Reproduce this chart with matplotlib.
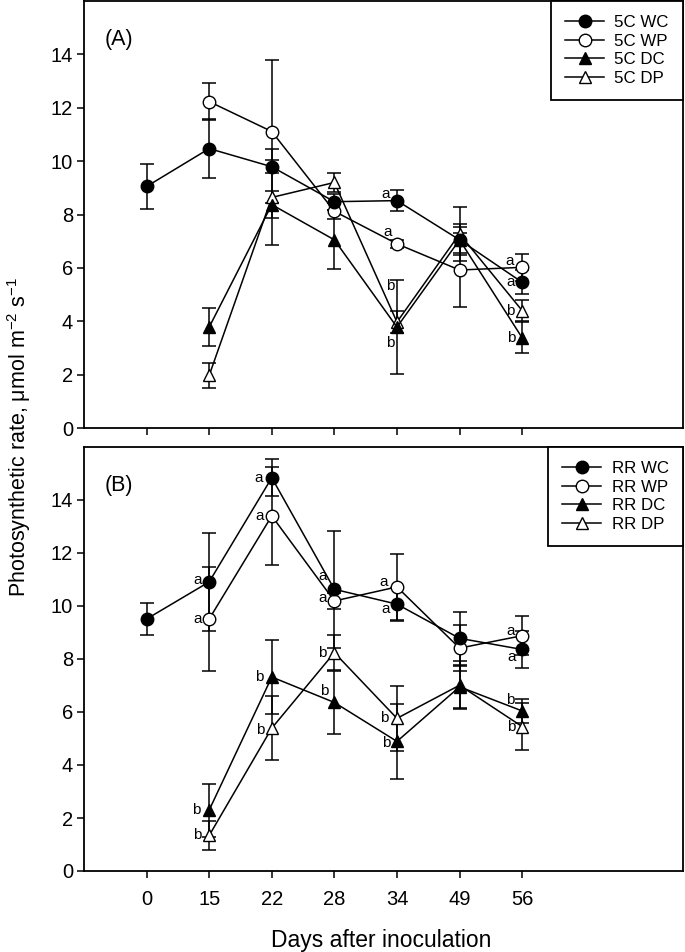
import numpy as np
import matplotlib
matplotlib.use("Agg")
import matplotlib.pyplot as plt
from matplotlib.lines import Line2D

plt.rcParams['font.family'] = ['Liberation Sans', 'DejaVu Sans']
plt.rcParams['mathtext.fontset'] = 'custom'
plt.rcParams['mathtext.rm'] = 'Liberation Sans'
plt.rcParams['mathtext.it'] = 'Liberation Sans:italic'
plt.rcParams['mathtext.bf'] = 'Liberation Sans:bold'

days = ['0', '15', '22', '28', '34', '49', '56']
nan = np.nan

# Panel A (5C)
A_WC = [9.05, 10.47, 9.79, 8.48, 8.52, 7.05, 5.46]
A_WC_err = [0.83, 1.1, 0.25, 0.3, 0.4, 0.58, 0.45]
A_WP = [nan, 12.23, 11.11, 8.12, 6.9, 5.92, 6.02]
A_WP_err = [nan, 0.7, 2.68, 0.3, 0.15, 1.37, 0.5]
A_DC = [nan, 3.78, 8.37, 7.05, 3.78, 7.05, 3.38]
A_DC_err = [nan, 0.7, 0.5, 1.1, 1.75, 0.5, 0.58]
A_DP = [nan, 1.97, 8.64, 9.2, 3.97, 7.27, 4.4]
A_DP_err = [nan, 0.47, 1.8, 0.35, 0.4, 1.0, 0.4]
A_WC_let = ['', '', '', '', 'a', '', 'a']
A_WP_let = ['', '', '', '', 'a', '', 'a']
A_DC_let = ['', '', '', '', 'b', '', 'b']
A_DP_let = ['', '', '', '', 'b', '', 'b']

# Panel B (RR)
B_WC = [9.51, 10.91, 14.84, 10.63, 10.07, 8.78, 8.36]
B_WC_err = [0.62, 1.85, 0.7, 2.2, 0.62, 1.0, 0.7]
B_WP = [nan, 9.51, 13.4, 10.19, 10.72, 8.41, 8.88]
B_WP_err = [nan, 1.97, 1.86, 0.3, 1.25, 0.87, 0.73]
B_DC = [nan, 2.3, 7.32, 6.36, 4.89, 6.95, 6.04]
B_DC_err = [nan, 1.0, 1.41, 1.2, 1.43, 0.8, 0.45]
B_DP = [nan, 1.34, 5.39, 8.24, 5.76, 7.01, 5.45]
B_DP_err = [nan, 0.56, 1.2, 0.65, 1.22, 0.9, 0.9]
B_WC_let = ['', 'a', 'a', 'a', 'a', '', 'a']
B_WP_let = ['', 'a', 'a', 'a', 'a', '', 'a']
B_DC_let = ['', 'b', 'b', 'b', 'b', '', 'b']
B_DP_let = ['', 'b', 'b', 'b', 'b', '', 'b']

labels_A = ['5C WC', '5C WP', '5C DC', '5C DP']
labels_B = ['RR WC', 'RR WP', 'RR DC', 'RR DP']

styles = [
    dict(marker='o', mfc='black'),
    dict(marker='o', mfc='white'),
    dict(marker='^', mfc='black'),
    dict(marker='^', mfc='white'),
]

# letter offsets (pixels, dx, dy) keyed by (panel, series index, point index)
offs = {
    ('A', 0, 4): (-11, 7), ('A', 1, 4): (-9, 12), ('A', 3, 4): (-7, 36), ('A', 2, 4): (-7, -16),
    ('A', 1, 6): (-13, 6), ('A', 0, 6): (-12, 0), ('A', 3, 6): (-12, 0), ('A', 2, 6): (-11, 0),
    ('B', 0, 1): (-12, 2), ('B', 1, 1): (-12, 0), ('B', 2, 1): (-13, 0), ('B', 3, 1): (-12, 0),
    ('B', 0, 2): (-13, 0), ('B', 1, 2): (-12, 0), ('B', 2, 2): (-13, 0), ('B', 3, 2): (-12, -2),
    ('B', 0, 3): (-12, 13), ('B', 1, 3): (-12, 3), ('B', 3, 3): (-12, 0), ('B', 2, 3): (-10, 11),
    ('B', 1, 4): (-13, 5), ('B', 0, 4): (-11, -5), ('B', 3, 4): (-13, 0), ('B', 2, 4): (-11, -2),
    ('B', 1, 6): (-12, 5), ('B', 0, 6): (-11, -8), ('B', 2, 6): (-12, 11), ('B', 3, 6): (-11, 0),
}

fig = plt.figure(figsize=(6.85, 9.52), dpi=100)
axA = fig.add_axes([84/685, 1-428/952, 599/685, 427/952])
axB = fig.add_axes([84/685, 1-871/952, 599/685, 424/952])

x = np.arange(len(days))

def draw(ax, series, errs, lets, labels, tag, letter):
    handles = []
    order = [3, 2, 1, 0]
    for i in order:
        y = np.array(series[i], dtype=float)
        e = np.array(errs[i], dtype=float)
        st = styles[i]
        ax.errorbar(x, y, yerr=e, fmt='none', ecolor='black', elinewidth=1.1,
                    capsize=5, capthick=1.1, zorder=2)
        ax.plot(x, y, color='black', lw=1.1, marker=st['marker'], ms=9 if st['marker'] == 'o' else 8.5,
                mfc=st['mfc'], mec='black', mew=1.0, zorder=3)
        for j, t in enumerate(lets[i]):
            if t:
                dx, dy = offs.get((tag, i, j), (-12, 0))
                ax.annotate(t, (x[j], y[j]), xytext=(dx*0.72, dy*0.72), textcoords='offset points',
                            ha='center', va='center', fontsize=11, zorder=5)
    for i in range(4):
        st = styles[i]
        handles.append(Line2D([], [], color='black', lw=1.1, marker=st['marker'],
                              ms=9 if st['marker'] == 'o' else 8.5, mfc=st['mfc'], mec='black'))
    leg = ax.legend(handles, labels, loc='upper right', borderaxespad=0, fancybox=False,
                    framealpha=1, edgecolor='black', fontsize=12.2, handlelength=2.3,
                    handletextpad=0.6, labelspacing=0.2, borderpad=0.85)
    leg.get_frame().set_linewidth(1.3)
    ax.set_xlim(-1, 8.57)
    ax.set_ylim(0, 16)
    ax.set_yticks(np.arange(0, 15, 2))
    ax.set_xticks(x)
    ax.tick_params(direction='out', length=5, width=1.1, labelsize=14.5, pad=3)
    for s in ax.spines.values():
        s.set_linewidth(1.3)
    ax.text(0.058, 0.91, letter, transform=ax.transAxes, fontsize=15.5, ha='center', va='center')

draw(axA, [A_WC, A_WP, A_DC, A_DP], [A_WC_err, A_WP_err, A_DC_err, A_DP_err],
     [A_WC_let, A_WP_let, A_DC_let, A_DP_let], labels_A, 'A', '(A)')
draw(axB, [B_WC, B_WP, B_DC, B_DP], [B_WC_err, B_WP_err, B_DC_err, B_DP_err],
     [B_WC_let, B_WP_let, B_DC_let, B_DP_let], labels_B, 'B', '(B)')

axA.set_xticklabels([''] * len(days))
axB.set_xticklabels(days)
axB.tick_params(axis='x', pad=9)

fig.text(84/685 + 0.5*599/685 - 2/685, 1-940/952, 'Days after inoculation', ha='center', va='center', fontsize=16.5)
fig.text(19/685, 1-437/952, 'Photosynthetic rate, μmol m$^{-2}$ s$^{-1}$', rotation=90,
         ha='center', va='center', fontsize=15.5)

fig.savefig('out.png', dpi=100)
